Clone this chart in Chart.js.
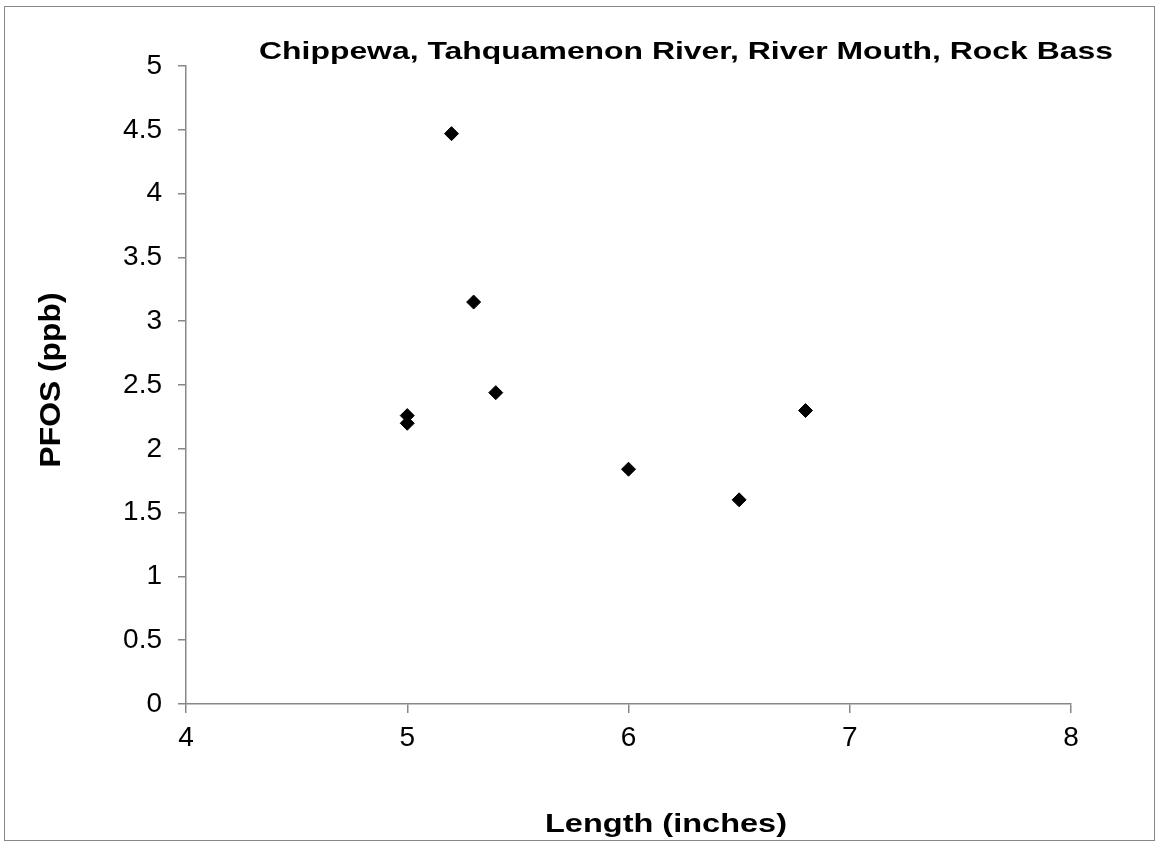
<!DOCTYPE html>
<html>
<head>
<meta charset="utf-8">
<script src="https://cdn.jsdelivr.net/npm/chart.js@4.4.1/dist/chart.umd.min.js"></script>
<style>
  html, body { margin: 0; padding: 0; background: #ffffff; }
  #wrap { position: relative; width: 1156px; height: 842px; }
</style>
</head>
<body>
<div id="wrap"><canvas id="c"></canvas></div>
<script>
// ---- data ----
const lengthInches = [5.0, 5.0, 5.2, 5.3, 5.4, 6.0, 6.5, 6.8];
const pfosPpb      = [2.26, 2.20, 4.47, 3.15, 2.44, 1.84, 1.60, 2.30];
const xTickValues  = [4, 5, 6, 7, 8];
const yTickValues  = [0, 0.5, 1, 1.5, 2, 2.5, 3, 3.5, 4, 4.5, 5];
const chartTitle   = "Chippewa, Tahquamenon River, River Mouth, Rock Bass";
const xAxisTitle   = "Length (inches)";
const yAxisTitle   = "PFOS (ppb)";

const points = lengthInches.map((x, i) => ({ x: x, y: pfosPpb[i] }));
const AXIS_COLOR = '#878787';
const FONT = '"Liberation Sans", Arial, sans-serif';

function drawStretched(ctx, text, font, left, baseline, targetWidth) {
  ctx.save();
  ctx.font = font;
  const w = ctx.measureText(text).width;
  const sx = targetWidth / w;
  ctx.translate(left, baseline);
  ctx.scale(sx, 1);
  ctx.textAlign = 'left';
  ctx.textBaseline = 'alphabetic';
  ctx.fillStyle = '#000';
  ctx.fillText(text, 0, 0);
  ctx.restore();
}

const decor = {
  id: 'decor',
  afterDraw(chart) {
    const ctx = chart.ctx;
    // outer frame
    ctx.save();
    ctx.strokeStyle = AXIS_COLOR;
    ctx.lineWidth = 1;
    ctx.strokeRect(4.5, 6.5, 1150, 834);
    ctx.restore();
    // title
    drawStretched(ctx, chartTitle, 'bold 24px ' + FONT, 259, 59, 854);
    // x axis title
    drawStretched(ctx, xAxisTitle, 'bold 26px ' + FONT, 545, 832, 242);
    // y axis title (rotated)
    ctx.save();
    ctx.font = 'bold 26px ' + FONT;
    const w = ctx.measureText(yAxisTitle).width;
    const sx = 175 / w;
    ctx.translate(60, 380);
    ctx.rotate(-Math.PI / 2);
    ctx.scale(sx, 1.1);
    ctx.textAlign = 'center';
    ctx.textBaseline = 'alphabetic';
    ctx.fillStyle = '#000';
    ctx.fillText(yAxisTitle, 0, 0);
    ctx.restore();
  }
};

new Chart(document.getElementById('c'), {
  type: 'scatter',
  data: {
    datasets: [{
      data: points,
      pointStyle: 'rectRot',
      pointRadius: 7,
      pointHoverRadius: 7,
      backgroundColor: '#000',
      borderColor: '#000',
      borderWidth: 1
    }]
  },
  options: {
    responsive: true,
    maintainAspectRatio: false,
    animation: false,
    events: [],
    layout: { padding: { left: 0, right: 85, top: 66, bottom: 0 } },
    plugins: { legend: { display: false }, title: { display: false }, tooltip: { enabled: false } },
    scales: {
      x: {
        type: 'linear',
        min: xTickValues[0],
        max: xTickValues[xTickValues.length - 1],
        afterBuildTicks: (s) => { s.ticks = xTickValues.map(v => ({ value: v })); },
        afterFit: (s) => { s.height = 138; },
        ticks: { color: '#000', font: { family: FONT, size: 28 }, padding: 8, callback: (v) => String(v) },
        grid: { drawOnChartArea: false, drawTicks: true, tickLength: 9, color: AXIS_COLOR, lineWidth: 1.5 },
        border: { display: true, color: AXIS_COLOR, width: 1.5 }
      },
      y: {
        type: 'linear',
        min: yTickValues[0],
        max: yTickValues[yTickValues.length - 1],
        afterBuildTicks: (s) => { s.ticks = yTickValues.map(v => ({ value: v })); },
        afterFit: (s) => { s.width = 186; },
        ticks: { color: '#000', font: { family: FONT, size: 28 }, padding: 16, callback: (v) => String(v) },
        grid: { drawOnChartArea: false, drawTicks: true, tickLength: 8, color: AXIS_COLOR, lineWidth: 1.5 },
        border: { display: true, color: AXIS_COLOR, width: 1.5 }
      }
    }
  },
  plugins: [decor]
});
</script>
</body>
</html>
